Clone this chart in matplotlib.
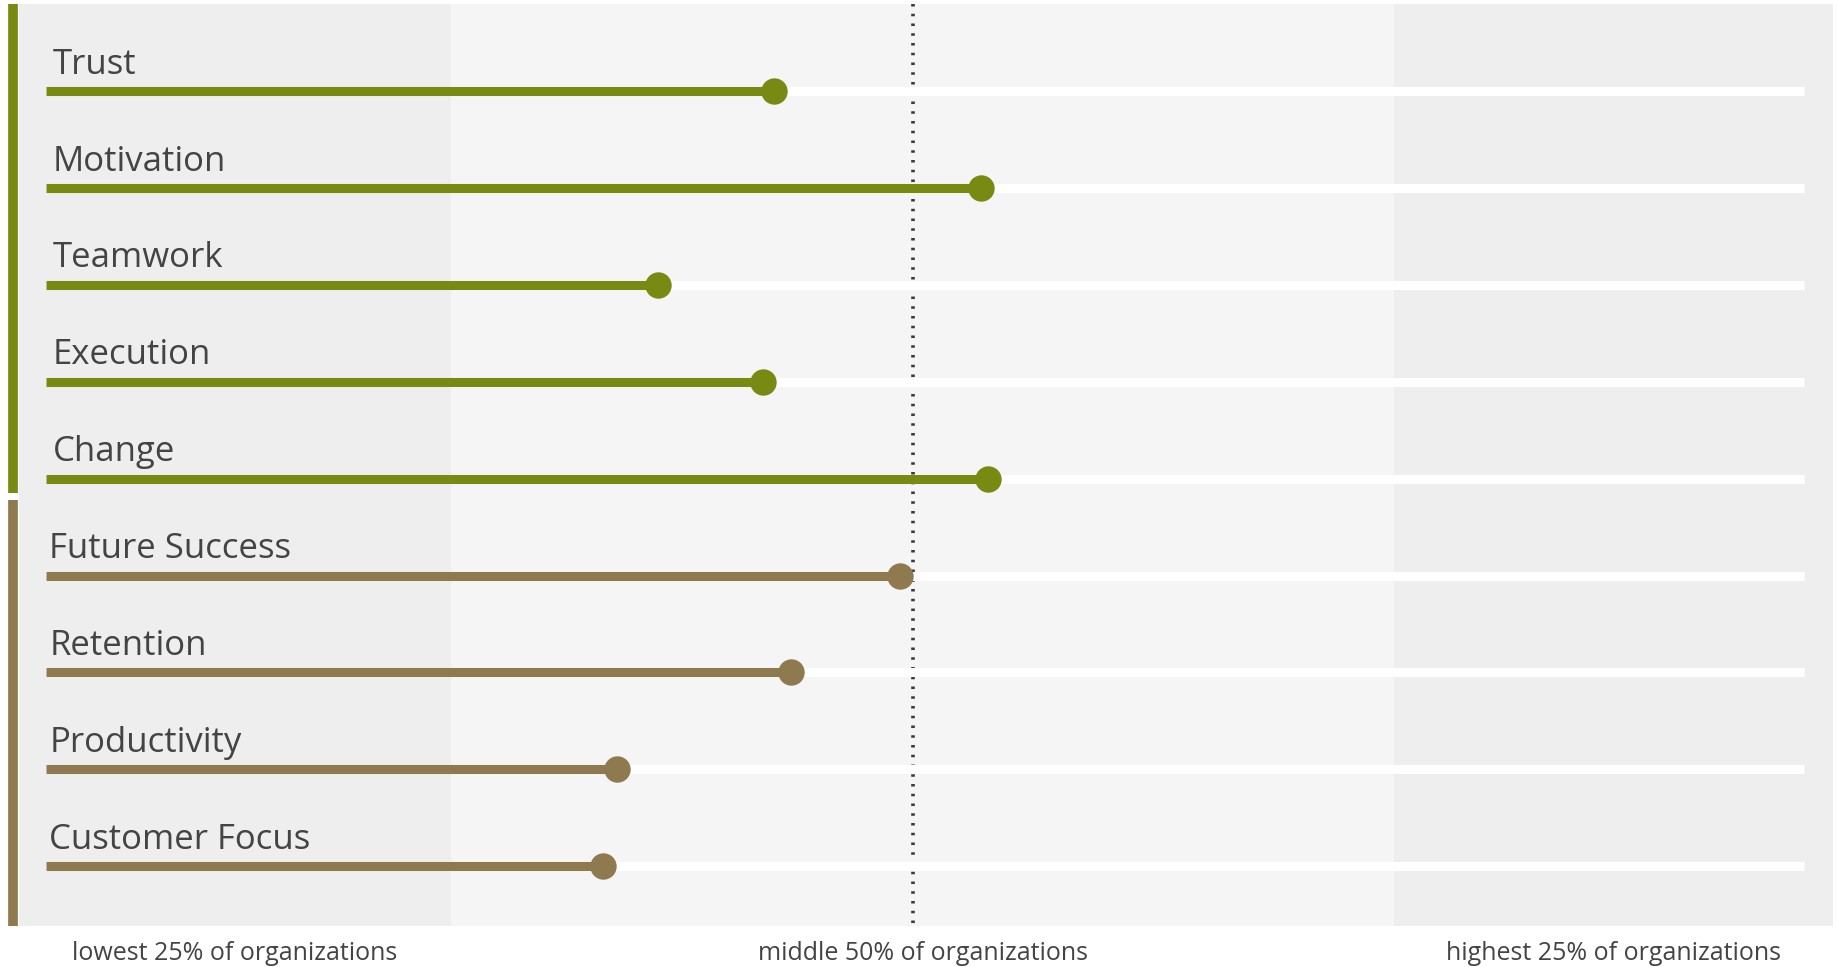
import numpy as np
from matplotlib import pyplot as plt

# scores on a 0-100 track (0 = start of the row line, 100 = its end)
labels = ['Trust', 'Motivation', 'Teamwork', 'Execution', 'Change',
          'Future Success', 'Retention', 'Productivity', 'Customer Focus']
scores = [41.4, 53.2, 34.8, 40.8, 53.6, 48.6, 42.4, 32.5, 31.7]
groups = ['drivers'] * 5 + ['outcomes'] * 4
band_names = ['lowest 25% of organizations', 'middle 50% of organizations',
              'highest 25% of organizations']
band_edges = [-1.52, 23.05, 76.67, 101.63]
median = 49.32

colors = {'drivers': '#788a12', 'outcomes': '#8f7a50'}
txt = '#444444'

plt.rcParams['font.family'] = ['Open Sans', 'DejaVu Sans']

fig = plt.figure(figsize=(18.37, 9.67), dpi=100)
ax = fig.add_axes([0, 0, 1, 1])
ax.set_xlim(-2.60, 101.86)
ax.set_ylim(9.04, -0.94)
ax.axis('off')

top, bottom = -0.90, 8.62
band_cols = ['#eeeeee', '#f5f5f5', '#eeeeee']
for i in range(3):
    ax.axvspan(band_edges[i], band_edges[i + 1], ymin=(9.04 - bottom) / 9.98,
               ymax=(9.04 - top) / 9.98, color=band_cols[i], lw=0, zorder=0)
    ax.text((band_edges[i] + band_edges[i + 1]) / 2, 8.90, band_names[i],
            ha='center', va='center', fontsize=18, color=txt)

ax.plot([median, median], [top, bottom], ls=(0, (0.7, 2.0)), lw=2.6,
        color='#3a3a3a', zorder=1)

y = np.arange(len(labels))
for i, (lab, s, g) in enumerate(zip(labels, scores, groups)):
    c = colors[g]
    ax.plot([0, 100], [y[i], y[i]], color='white', lw=6.5,
            solid_capstyle='butt', zorder=2)
    ax.plot([0, s], [y[i], y[i]], color=c, lw=6.5,
            solid_capstyle='butt', zorder=3)
    ax.plot(s, y[i], 'o', ms=19, color=c, mec='none', zorder=4)
    ax.text(0.4 if g == 'drivers' else 0.2, y[i] - 0.18, lab,
            ha='left', va='baseline', fontsize=25, color=txt)

# group bars on the left
n_drv = groups.count('drivers')
ax.plot([-1.85, -1.85], [top, n_drv - 1 + 0.15], color=colors['drivers'],
        lw=7, solid_capstyle='butt', zorder=3)
ax.plot([-1.85, -1.85], [n_drv - 1 + 0.22, bottom], color=colors['outcomes'],
        lw=7, solid_capstyle='butt', zorder=3)

fig.savefig('out.png', dpi=100)
